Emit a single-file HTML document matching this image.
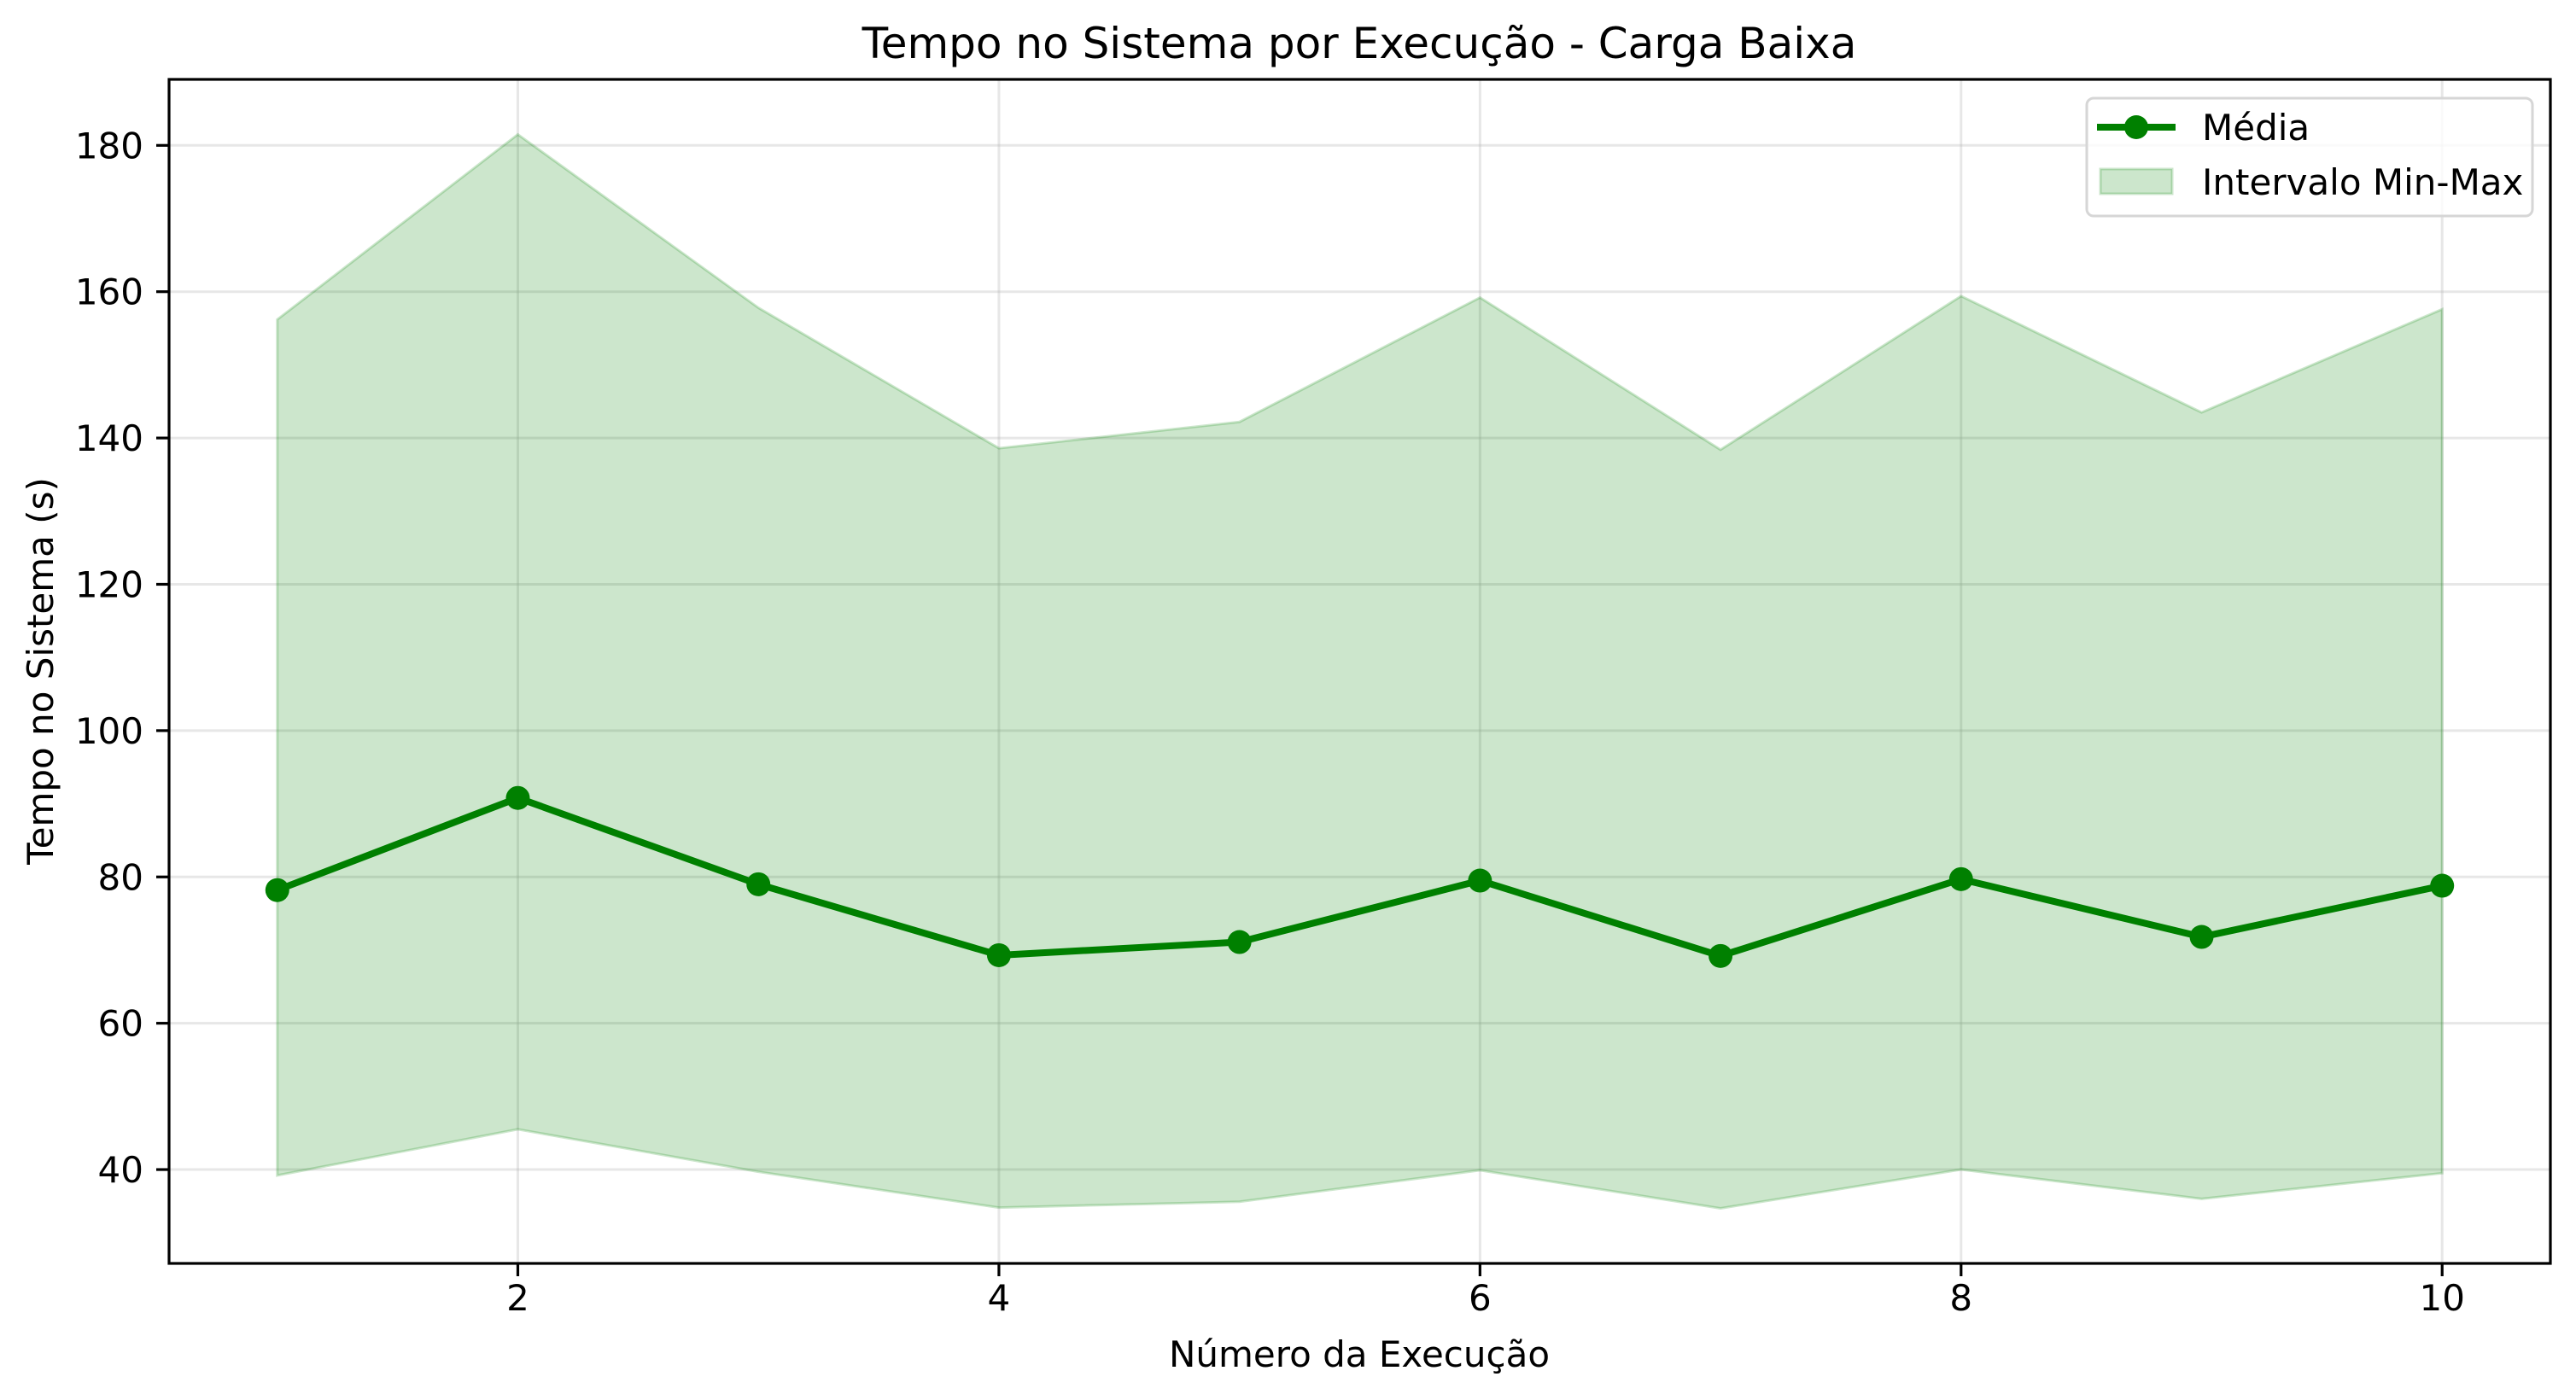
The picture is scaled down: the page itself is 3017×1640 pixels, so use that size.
<!DOCTYPE html>
<html><head><meta charset="utf-8"><style>
html,body{margin:0;padding:0;background:#fff;}
svg{display:block;font-family:"DejaVu Sans","Liberation Sans",sans-serif;}
</style></head><body>
<svg id="chart" width="3017" height="1640" viewBox="0 0 3017 1640">
<rect x="0" y="0" width="3017" height="1640" fill="#fff"/>
<g id="grid"></g>
<g id="series"></g>
<rect x="198" y="93" width="2789" height="1387" fill="none" stroke="#000" stroke-width="3.2"/>
<g id="ticks"></g>
<text x="1592" y="68" font-size="50" text-anchor="middle">Tempo no Sistema por Execução - Carga Baixa</text>
<text x="1592" y="1601" font-size="42" text-anchor="middle">Número da Execução</text>
<text x="0" y="0" font-size="42" text-anchor="middle" transform="translate(62,786) rotate(-90)">Tempo no Sistema (s)</text>
<g>
<rect x="2444" y="115" width="522" height="138" rx="8" fill="#fff" fill-opacity="0.8" stroke="#d6d6d6" stroke-width="3"/>
<g>
<line x1="2456" y1="149" x2="2548" y2="149" stroke="#008000" stroke-width="8"/>
<circle cx="2502" cy="149" r="14" fill="#008000"/>
<text x="2579" y="164" font-size="42">Média</text>
</g>
<g>
<rect x="2460" y="198" width="84" height="29" fill="#008000" fill-opacity="0.2" stroke="#008000" stroke-opacity="0.2" stroke-width="3"/>
<text x="2579" y="228" font-size="42">Intervalo Min-Max</text>
</g>
</g>
</svg>
<script>
const runs=[1,2,3,4,5,6,7,8,9,10];
const meanVals=[78.2,90.8,79.0,69.3,71.1,79.5,69.2,79.7,71.8,78.8];
const maxVals=[156.2,181.5,157.8,138.6,142.2,159.2,138.4,159.4,143.5,157.6];
const minVals=[39.2,45.5,39.7,34.8,35.6,39.9,34.7,40.0,36.0,39.5];
const xTicks=[2,4,6,8,10];
const yTicks=[40,60,80,100,120,140,160,180];

const NS="http://www.w3.org/2000/svg";
const L=198,R=2987,T=93,B=1480;
const xMin=0.55,xMax=10.45,yMin=27.17,yMax=189.02;
const xs=v=>L+(v-xMin)/(xMax-xMin)*(R-L);
const ys=v=>B-(v-yMin)/(yMax-yMin)*(B-T);
function mk(tag,attrs,parent){const e=document.createElementNS(NS,tag);for(const k in attrs)e.setAttribute(k,attrs[k]);parent.appendChild(e);return e;}
const grid=document.getElementById('grid'),ticks=document.getElementById('ticks'),series=document.getElementById('series');

xTicks.forEach(t=>{
  const g=mk('line',{x1:xs(t),x2:xs(t),y1:T,y2:B,stroke:'#b0b0b0','stroke-opacity':0.3,'stroke-width':3},grid);
  
  
  const tk=mk('line',{x1:xs(t),x2:xs(t),y1:B,y2:B+15,stroke:'#000','stroke-width':3.2},ticks);
  
  
  const tx=mk('text',{x:xs(t),y:B+55,'font-size':42,'text-anchor':'middle'},ticks);
  tx.textContent=t;
  
  
});
yTicks.forEach(t=>{
  const g=mk('line',{x1:L,x2:R,y1:ys(t),y2:ys(t),stroke:'#b0b0b0','stroke-opacity':0.3,'stroke-width':3},grid);
  
  
  const tk=mk('line',{x1:L-15,x2:L,y1:ys(t),y2:ys(t),stroke:'#000','stroke-width':3.2},ticks);
  
  
  const tx=mk('text',{x:L-30,y:ys(t)+15,'font-size':42,'text-anchor':'end'},ticks);
  tx.textContent=t;
  
  
});

let pts=runs.map((r,i)=>xs(r)+','+ys(maxVals[i]));
for(let i=runs.length-1;i>=0;i--)pts.push(xs(runs[i])+','+ys(minVals[i]));
const area=mk('polygon',{points:pts.join(' '),fill:'#008000','fill-opacity':0.2,stroke:'#008000','stroke-opacity':0.2,'stroke-width':3},series);



const line=mk('polyline',{points:runs.map((r,i)=>xs(r)+','+ys(meanVals[i])).join(' '),fill:'none',stroke:'#008000','stroke-width':8,'stroke-linejoin':'round'},series);


runs.forEach((r,i)=>{
  const c=mk('circle',{cx:xs(r),cy:ys(meanVals[i]),r:14,fill:'#008000'},series);
  
  
});
</script>
</body></html>
